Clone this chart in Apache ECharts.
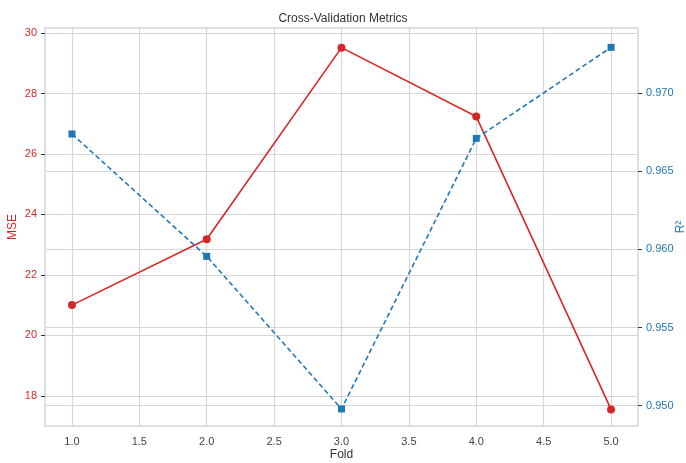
<!DOCTYPE html>
<html>
<head>
<meta charset="utf-8">
<script src="https://cdn.jsdelivr.net/npm/echarts@6/dist/echarts.min.js"></script>
<style>html,body{margin:0;padding:0;background:#fff}#c{width:686px;height:463px}</style>
</head>
<body>
<div id="c"></div>
<script>
const folds = [1, 2, 3, 4, 5];
const mse = [21.0, 23.18, 29.52, 27.24, 17.55];
const r2 = [0.96738, 0.95955, 0.94979, 0.96710, 0.97292];
const xTicks = [1.0, 1.5, 2.0, 2.5, 3.0, 3.5, 4.0, 4.5, 5.0];
const mseTicks = [18, 20, 22, 24, 26, 28, 30];
const r2Ticks = [0.950, 0.955, 0.960, 0.965, 0.970];

const RED = '#d62728', BLUE = '#1f77b4', GRID = '#d6d6d6';
const FONT = 'Liberation Sans';

const chart = echarts.init(document.getElementById('c'));
chart.setOption({
  animation: false,
  textStyle: { fontFamily: FONT },
  title: { text: 'Cross-Validation Metrics', left: 'center', top: 8,
    textStyle: { fontSize: 12, fontWeight: 'normal', color: '#333', fontFamily: FONT } },
  grid: { left: 45, right: 48, top: 28, bottom: 37, show: true, borderColor: GRID, borderWidth: 1.5,
    containLabel: false, outerBoundsMode: 'none' },
  xAxis: {
    type: 'value', min: 0.8, max: 5.2,
    name: 'Fold', nameLocation: 'middle', nameGap: 23, nameMoveOverlap: false,
    nameTextStyle: { fontSize: 12, color: '#333', fontFamily: FONT },
    axisLine: { show: false },
    axisTick: { show: false, customValues: xTicks },
    axisLabel: { customValues: xTicks, color: '#444', fontSize: 11, margin: 10,
      formatter: v => v.toFixed(1) },
    splitLine: { show: true, lineStyle: { color: GRID, width: 1.2 } }
  },
  yAxis: [{
    type: 'value', min: 17.0, max: 30.17, position: 'left',
    name: 'MSE', nameLocation: 'middle', nameGap: 26, nameMoveOverlap: false,
    nameTextStyle: { fontSize: 12, color: RED, fontFamily: FONT },
    axisLine: { show: false },
    axisTick: { show: true, customValues: mseTicks, length: 4, lineStyle: { color: '#333' } },
    axisLabel: { customValues: mseTicks, color: RED, fontSize: 11, margin: 8 },
    splitLine: { show: true, lineStyle: { color: GRID, width: 1.2 } }
  }, {
    type: 'value', min: 0.94870, max: 0.97416, position: 'right',
    name: 'R²', nameLocation: 'middle', nameGap: 37, nameMoveOverlap: false,
    nameTextStyle: { fontSize: 12, color: BLUE, fontFamily: FONT },
    axisLine: { show: false },
    axisTick: { show: true, customValues: r2Ticks, length: 4, lineStyle: { color: '#333' } },
    axisLabel: { customValues: r2Ticks, color: BLUE, fontSize: 11, margin: 8,
      formatter: v => v.toFixed(3) },
    splitLine: { show: true, lineStyle: { color: GRID, width: 1.2 } }
  }],
  series: [{
    name: 'MSE', type: 'line', yAxisIndex: 0,
    data: folds.map((f, i) => [f, mse[i]]),
    symbol: 'circle', symbolSize: 8,
    lineStyle: { color: RED, width: 1.6 }, itemStyle: { color: RED }, z: 3
  }, {
    name: 'R²', type: 'line', yAxisIndex: 1,
    data: folds.map((f, i) => [f, r2[i]]),
    symbol: 'rect', symbolSize: 7,
    lineStyle: { color: BLUE, width: 1.6, type: [5, 3] }, itemStyle: { color: BLUE }, z: 4
  }]
});
</script>
</body>
</html>
